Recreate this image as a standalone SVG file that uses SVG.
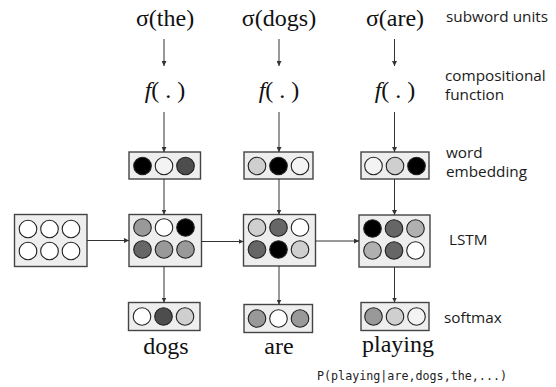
<svg xmlns="http://www.w3.org/2000/svg" width="556" height="387" viewBox="0 0 556 387">
<style>
.box{fill:#eeeeee;stroke:#444;stroke-width:1.4}
.c{stroke:#222;stroke-width:1.1}
.k{fill:#000}.d{fill:#4d4d4d}.g{fill:#666}.m{fill:#999}.a{fill:#b0b0b0}.l{fill:#cfcfcf}.n{fill:#f3f3f3}.w{fill:#fff}
.ser{font-family:"Liberation Serif",serif;font-size:24px;fill:#111;text-anchor:middle}
.lab{font-family:"Open Sans","Noto Sans",sans-serif;font-size:15.3px;fill:#1a1a1a}
.mono{font-family:"DejaVu Sans Mono","Liberation Mono",monospace;font-size:11.7px;fill:#222}
.conn line{stroke:#333;stroke-width:1;marker-end:url(#ah)}
</style>
<defs>
<marker id="ah" viewBox="0 0 6 6" refX="6" refY="3" markerWidth="5" markerHeight="5" markerUnits="userSpaceOnUse" orient="auto">
<path d="M0,0 L6,3 L0,6 z" fill="#333"/>
</marker>
</defs>

<g id="labels">
<text class="lab" x="446" y="22">subword units</text>
<text class="lab" x="445" y="81">compositional</text>
<text class="lab" x="445" y="100">function</text>
<text class="lab" x="446" y="158">word</text>
<text class="lab" x="446" y="177">embedding</text>
<text class="lab" x="449" y="245">LSTM</text>
<text class="lab" x="444" y="323">softmax</text>
</g>

<g id="sigma1"><text class="ser" x="165" y="26">σ(the)</text></g>
<g id="sigma2"><text class="ser" x="279" y="26">σ(dogs)</text></g>
<g id="sigma3"><text class="ser" x="395" y="26">σ(are)</text></g>

<g id="f1"><text class="ser" x="165" y="98"><tspan font-style="italic">f</tspan>( . )</text></g>
<g id="f2"><text class="ser" x="279" y="98"><tspan font-style="italic">f</tspan>( . )</text></g>
<g id="f3"><text class="ser" x="395" y="98"><tspan font-style="italic">f</tspan>( . )</text></g>

<g id="emb1">
<rect class="box" x="129" y="152" width="71.5" height="27"/>
<circle class="c k" cx="142.5" cy="166" r="8.8"/><circle class="c n" cx="164" cy="166" r="8.8"/><circle class="c d" cx="185.5" cy="166" r="8.8"/>
</g>
<g id="emb2">
<rect class="box" x="244" y="152" width="69" height="27"/>
<circle class="c l" cx="257" cy="166" r="8.8"/><circle class="c k" cx="278.5" cy="166" r="8.8"/><circle class="c n" cx="300" cy="166" r="8.8"/>
</g>
<g id="emb3">
<rect class="box" x="361" y="152" width="68" height="27"/>
<circle class="c n" cx="373.5" cy="166" r="8.8"/><circle class="c l" cx="395" cy="166" r="8.8"/><circle class="c k" cx="416.5" cy="166" r="8.8"/>
</g>

<g id="lstm0">
<rect class="box" x="14.5" y="214.5" width="72.5" height="52"/>
<circle class="c w" cx="28" cy="229" r="8.8"/><circle class="c w" cx="49.5" cy="229" r="8.8"/><circle class="c w" cx="71" cy="229" r="8.8"/>
<circle class="c w" cx="28" cy="251" r="8.8"/><circle class="c w" cx="49.5" cy="251" r="8.8"/><circle class="c w" cx="71" cy="251" r="8.8"/>
</g>
<g id="lstm1">
<rect class="box" x="129" y="214.5" width="72.5" height="52"/>
<circle class="c m" cx="142.5" cy="227.5" r="8.8"/><circle class="c w" cx="164" cy="227.5" r="8.8"/><circle class="c k" cx="185.5" cy="227.5" r="8.8"/>
<circle class="c g" cx="142.5" cy="249.5" r="8.8"/><circle class="c m" cx="164" cy="249.5" r="8.8"/><circle class="c m" cx="185.5" cy="249.5" r="8.8"/>
</g>
<g id="lstm2">
<rect class="box" x="243.5" y="214.5" width="72" height="51.5"/>
<circle class="c l" cx="257" cy="227.5" r="8.8"/><circle class="c g" cx="278.5" cy="227.5" r="8.8"/><circle class="c w" cx="300" cy="227.5" r="8.8"/>
<circle class="c g" cx="257" cy="249.5" r="8.8"/><circle class="c k" cx="278.5" cy="249.5" r="8.8"/><circle class="c l" cx="300" cy="249.5" r="8.8"/>
</g>
<g id="lstm3">
<rect class="box" x="359" y="215" width="71" height="52"/>
<circle class="c k" cx="372.5" cy="228.5" r="8.8"/><circle class="c g" cx="394" cy="228.5" r="8.8"/><circle class="c a" cx="415.5" cy="228.5" r="8.8"/>
<circle class="c a" cx="372.5" cy="250.5" r="8.8"/><circle class="c g" cx="394" cy="250.5" r="8.8"/><circle class="c w" cx="415.5" cy="250.5" r="8.8"/>
</g>

<g id="soft1">
<rect class="box" x="128.5" y="302.5" width="71.5" height="28"/>
<circle class="c w" cx="142" cy="316.5" r="8.8"/><circle class="c d" cx="163.5" cy="316.5" r="8.8"/><circle class="c l" cx="185" cy="316.5" r="8.8"/>
</g>
<g id="soft2">
<rect class="box" x="244" y="304.5" width="68.5" height="28"/>
<circle class="c m" cx="257" cy="318.5" r="8.8"/><circle class="c w" cx="278.5" cy="318.5" r="8.8"/><circle class="c m" cx="300" cy="318.5" r="8.8"/>
</g>
<g id="soft3">
<rect class="box" x="361" y="302.5" width="68" height="28"/>
<circle class="c m" cx="373.5" cy="316.5" r="8.8"/><circle class="c l" cx="395" cy="316.5" r="8.8"/><circle class="c n" cx="416.5" cy="316.5" r="8.8"/>
</g>

<g id="out1"><text class="ser" x="166" y="354">dogs</text></g>
<g id="out2"><text class="ser" x="279" y="354">are</text></g>
<g id="out3"><text class="ser" x="398" y="352">playing</text></g>
<g id="prob"><text class="mono" x="317" y="380">P(playing|are,dogs,the,...)</text></g>

<g id="connectors" class="conn">
<line x1="164" y1="39" x2="164" y2="66"/>
<line x1="279" y1="39" x2="279" y2="66"/>
<line x1="394.5" y1="39" x2="394.5" y2="66"/>
<line x1="164" y1="112" x2="164" y2="152"/>
<line x1="279" y1="112" x2="279" y2="152"/>
<line x1="394.5" y1="112" x2="394.5" y2="152"/>
<line x1="164" y1="179" x2="164" y2="214.5"/>
<line x1="279" y1="179" x2="279" y2="214.5"/>
<line x1="394.5" y1="179" x2="394.5" y2="215"/>
<line x1="164" y1="266.5" x2="164" y2="302.5"/>
<line x1="279" y1="266" x2="279" y2="304.5"/>
<line x1="394.5" y1="267" x2="394.5" y2="302.5"/>
<line x1="87" y1="240.5" x2="129" y2="240.5"/>
<line x1="201.5" y1="241.5" x2="243.5" y2="241.5"/>
<line x1="315.5" y1="241" x2="359" y2="241"/>
</g>
</svg>
